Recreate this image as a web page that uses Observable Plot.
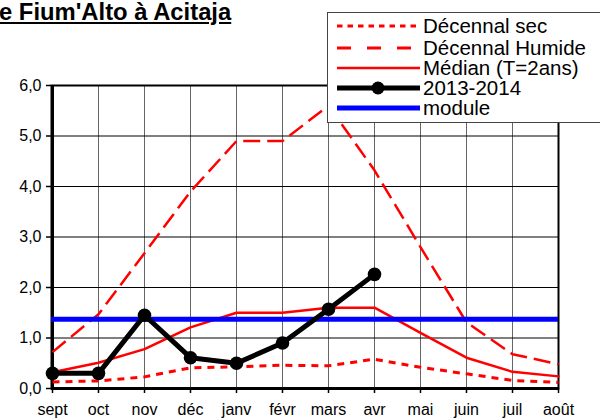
<!DOCTYPE html>
<html>
<head>
<meta charset="utf-8">
<script src="https://cdn.jsdelivr.net/npm/d3@7"></script>
<script src="https://cdn.jsdelivr.net/npm/@observablehq/plot@0.6"></script>
<style>
  html, body { margin: 0; padding: 0; background: #fff; }
  #wrap { position: relative; width: 600px; height: 418px; overflow: hidden; font-family: "Liberation Sans", Arial, sans-serif; }
  #title { position: absolute; left: -1px; top: -2px; font-size: 23.8px; font-weight: bold; text-decoration: underline; white-space: nowrap; color: #000; }
  #legend { position: absolute; left: 327px; top: 12px; width: 290px; height: 111px; background: #fff; border: 1px solid #444; box-sizing: border-box; }
  #chart { position: absolute; left: 0; top: 0; }
</style>
</head>
<body>
<div id="wrap">
  <div id="chart"></div>
  <div id="title">e Fium'Alto à Acitaja</div>
  <div id="legend"></div>
</div>
<script>
const months = ["sept","oct","nov","déc","janv","févr","mars","avr","mai","juin","juil","août"];
const decSec = [0.13,0.15,0.23,0.41,0.43,0.46,0.45,0.58,0.42,0.29,0.16,0.12];
const decHumide = [0.72,1.47,2.68,3.9,4.9,4.9,5.6,4.32,2.8,1.31,0.68,0.48];
const median = [0.32,0.51,0.78,1.21,1.5,1.5,1.6,1.6,1.1,0.61,0.33,0.24];
const y2013 = [0.3,0.3,1.45,0.61,0.5,0.9,1.57,2.26];
const moduleVal = 1.37;
const yTicks = [0,1,2,3,4,5,6];
const seriesNames = ["Décennal sec","Décennal Humide","Médian (T=2ans)","2013-2014","module"];

const rows = months.map((m, i) => ({month: m, sec: decSec[i], hum: decHumide[i], med: median[i]}));
const rows2013 = y2013.map((v, i) => ({month: months[i], v}));

const chart = Plot.plot({
  width: 600,
  height: 418,
  marginLeft: 51,
  marginRight: 42,
  marginTop: 85,
  marginBottom: 30,
  x: {type: "point", domain: months, padding: 0, axis: null},
  y: {domain: [0, 6], axis: null},
  style: {fontFamily: "'Liberation Sans', Arial, sans-serif", fontSize: "16px", color: "#000", background: "#fff"},
  marks: [
    Plot.gridX(months, {stroke: "#666", strokeOpacity: 1, strokeWidth: 1}),
    Plot.gridY(yTicks, {stroke: "#000", strokeOpacity: 1, strokeWidth: 1}),
    Plot.axisY({ticks: yTicks, tickFormat: d => d.toFixed(1).replace(".", ","), tickSize: 5, tickPadding: 5, label: null, fontSize: 16, strokeWidth: 1.5}),
    Plot.axisX(months, {tickSize: 5, tickPadding: 10, label: null, fontSize: 16, strokeWidth: 1.5}),
    Plot.frame({stroke: "#000", strokeWidth: 2}),
    Plot.ruleY([0], {stroke: "#000", strokeWidth: 3}),
    Plot.ruleX([months[0]], {stroke: "#000", strokeWidth: 3}),
    Plot.line(rows, {x: "month", y: "sec", stroke: "#ff0000", strokeWidth: 3, strokeDasharray: "7,6", strokeLinecap: "butt"}),
    Plot.line(rows, {x: "month", y: "hum", stroke: "#ff0000", strokeWidth: 2.5, strokeDasharray: "17,7", strokeLinecap: "butt"}),
    Plot.line(rows, {x: "month", y: "med", stroke: "#ff0000", strokeWidth: 2.5}),
    Plot.ruleY([moduleVal], {stroke: "#0000ff", strokeWidth: 5}),
    Plot.line(rows2013, {x: "month", y: "v", stroke: "#000", strokeWidth: 5}),
    Plot.dot(rows2013, {x: "month", y: "v", r: 6.8, fill: "#000", stroke: "none"})
  ]
});
document.getElementById("chart").appendChild(chart);

// Legend
const lg = d3.select("#legend").append("svg").attr("width", 290).attr("height", 110);
const rowY = [13, 35, 55, 75, 95];
const styles = [
  {stroke: "#ff0000", w: 3, dash: "5.5,5"},
  {stroke: "#ff0000", w: 3, dash: "14,16"},
  {stroke: "#ff0000", w: 2.5, dash: null},
  {stroke: "#000", w: 5, dash: null, dot: true},
  {stroke: "#0000ff", w: 5, dash: null}
];
seriesNames.forEach((name, i) => {
  const s = styles[i];
  const g = lg.append("g");
  const l = g.append("line").attr("x1", 9).attr("x2", 92).attr("y1", rowY[i]).attr("y2", rowY[i])
    .attr("stroke", s.stroke).attr("stroke-width", s.w);
  if (s.dash) l.attr("stroke-dasharray", s.dash);
  if (s.dot) g.append("circle").attr("cx", 50).attr("cy", rowY[i]).attr("r", 6.5).attr("fill", "#000");
  g.append("text").attr("x", 95).attr("y", rowY[i]).attr("dy", "0.36em")
    .attr("font-size", 20.5).attr("font-family", "'Liberation Sans', Arial, sans-serif").attr("fill", "#000").text(name);
});
</script>
</body>
</html>
